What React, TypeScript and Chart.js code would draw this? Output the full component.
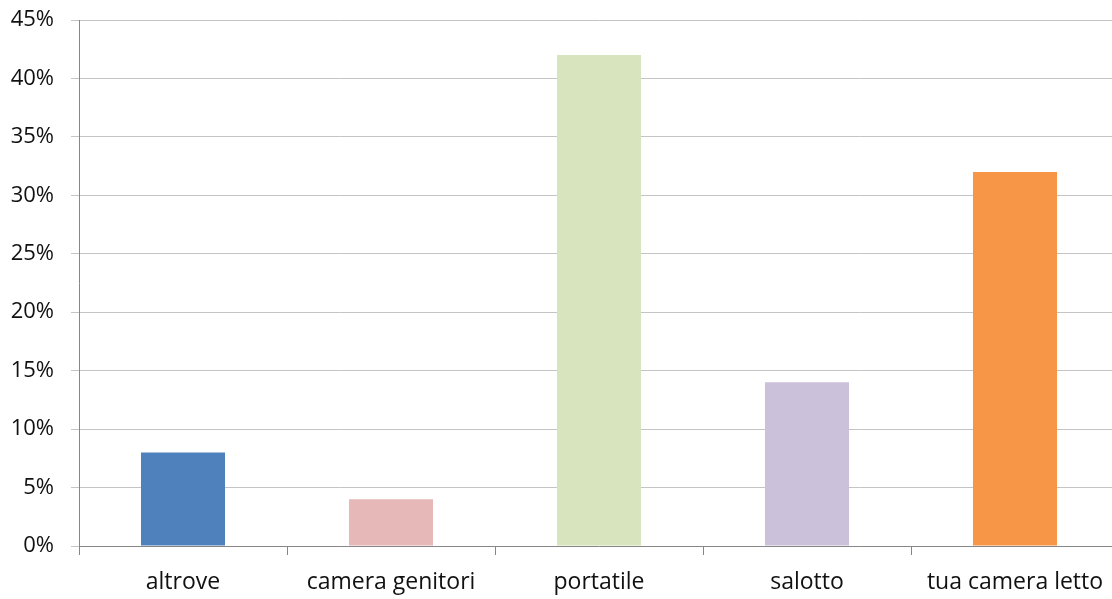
import React, { useEffect, useRef } from "react";
import { Chart, registerables } from "chart.js";

Chart.register(...registerables);

// Where the TV / device is used, share of answers (%)
const categories = ["altrove", "camera genitori", "portatile", "salotto", "tua camera letto"];
const shares = [8, 4, 42, 14, 32];
const barColors = ["#4F81BD", "#E6B9B8", "#D7E4BD", "#CCC1DA", "#F79646"];
const yMax = 45;
const yStep = 5;

const FONT = "'Open Sans', 'Noto Sans', sans-serif";
const AXIS_GREY = "#868686";
const GRID_GREY = "#C4C4C4";

export default function App() {
  const canvasRef = useRef<HTMLCanvasElement | null>(null);

  useEffect(() => {
    const canvas = canvasRef.current;
    if (!canvas) return;
    const chart = new Chart(canvas, {
      type: "bar",
      data: {
        labels: categories,
        datasets: [
          {
            data: shares,
            backgroundColor: barColors,
            borderWidth: 0,
            categoryPercentage: 1,
            barPercentage: 0.404,
          },
        ],
      },
      options: {
        animation: false,
        responsive: false,
        maintainAspectRatio: false,
        layout: { padding: { top: 20, right: 0, left: 0, bottom: 0 } },
        plugins: {
          legend: { display: false },
          tooltip: { enabled: false },
        },
        scales: {
          x: {
            offset: true,
            grid: {
              display: true,
              offset: true,
              drawOnChartArea: false,
              drawTicks: true,
              tickLength: 9,
              tickColor: AXIS_GREY,
              color: AXIS_GREY,
            },
            border: { display: true, color: AXIS_GREY, width: 1 },
            ticks: {
              color: "#111",
              font: { family: FONT, size: 23 },
              padding: 14,
              maxRotation: 0,
              autoSkip: false,
            },
            afterFit: (scale: any) => {
              scale.height = 53;
              scale.paddingLeft = 0;
              scale.paddingRight = 0;
            },
          },
          y: {
            min: 0,
            max: yMax,
            grid: {
              color: GRID_GREY,
              tickColor: GRID_GREY,
              tickLength: 8,
              drawTicks: true,
            },
            border: { display: true, color: AXIS_GREY, width: 1 },
            ticks: {
              stepSize: yStep,
              color: "#111",
              font: { family: FONT, size: 22 },
              padding: 17,
              callback: (v: any) => `${v}%`,
            },
            afterFit: (scale: any) => {
              scale.width = 79;
              scale.paddingTop = 0;
              scale.paddingBottom = 0;
            },
          },
        },
      },
    });
    return () => chart.destroy();
  }, []);

  return (
    <div
      style={{
        position: "fixed",
        left: 0,
        top: 0,
        width: 1112,
        height: 599,
        overflow: "hidden",
        background: "#fff",
      }}
    >
      <canvas ref={canvasRef} width={1119} height={599} style={{ display: "block" }} />
    </div>
  );
}
